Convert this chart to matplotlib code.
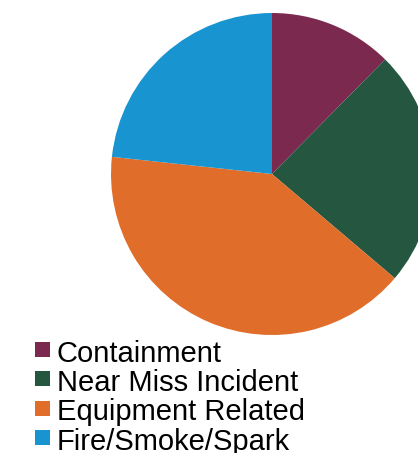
import matplotlib
matplotlib.use("Agg")
import matplotlib.pyplot as plt
from matplotlib.patches import Rectangle

# slice shares (percent)
labels = ["Containment", "Near Miss Incident", "Equipment Related", "Fire/Smoke/Spark"]
shares = [12.4, 23.8, 40.5, 23.3]
colors = ["#7C2950", "#245640", "#E06E2A", "#1894D0"]

W, H = 418, 453
fig = plt.figure(figsize=(W / 100, H / 100), dpi=100)

# pie: centre (272, 174) px, radius 161 px
cx, cy, r = 272, 174, 161
ax = fig.add_axes([(cx - r) / W, (H - cy - r) / H, 2 * r / W, 2 * r / H])
ax.pie(shares, colors=colors, startangle=90, counterclock=False,
       wedgeprops=dict(linewidth=0))
ax.set_xlim(-1, 1)
ax.set_ylim(-1, 1)
ax.set_aspect("equal")
ax.axis("off")

# legend drawn by hand in pixel positions
font = {"family": ["Liberation Sans", "DejaVu Sans"], "size": 21}
for i, (lab, col) in enumerate(zip(labels, colors)):
    base = 361.7 + i * 29.4
    fig.patches.append(Rectangle((35 / W, (H - base + 4.7) / H), 15 / W, 15 / H,
                                 transform=fig.transFigure, facecolor=col,
                                 edgecolor="none"))
    fig.text(56.5 / W, (H - base) / H, lab, va="baseline", ha="left",
             color="black", fontdict=font)

fig.savefig("out.png", dpi=100)
